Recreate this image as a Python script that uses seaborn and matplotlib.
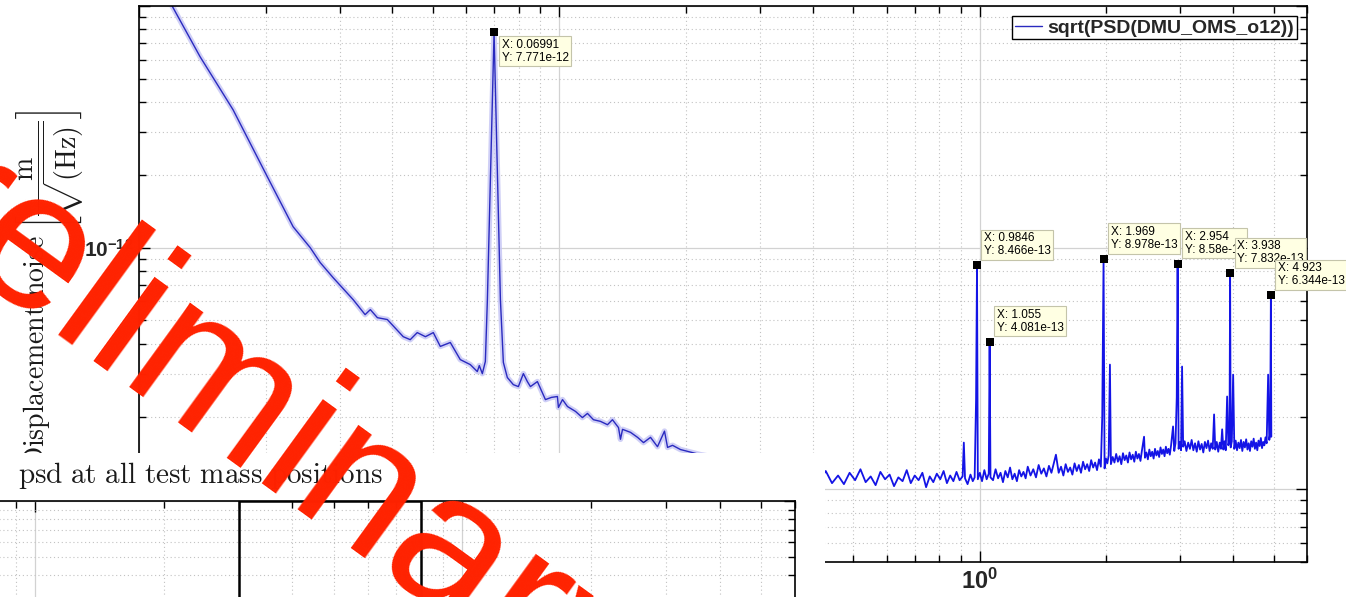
import numpy as np
import matplotlib
matplotlib.use('Agg')
import matplotlib.pyplot as plt
import seaborn as sns
from matplotlib.patches import Rectangle
from matplotlib.ticker import LogLocator, NullFormatter, FixedLocator, FixedFormatter

# ---------------- data ----------------
freq_low = [0.0100, 0.01199, 0.01397, 0.01674, 0.02018, 0.02326, 0.02554, 0.02698,
            0.02896, 0.03232, 0.0345, 0.0355, 0.0369, 0.03896, 0.04251, 0.04417,
            0.04590, 0.0480, 0.05012, 0.05208, 0.05501, 0.05810, 0.06138, 0.06378,
            0.06448, 0.06556, 0.06665, 0.06740, 0.06991, 0.07238, 0.07356, 0.07518,
            0.07769, 0.07986, 0.08208, 0.08390, 0.08531, 0.08863, 0.09262, 0.09572,
            0.09890, 0.09945, 0.1017, 0.1045, 0.1092, 0.1134, 0.1166, 0.1205,
            0.1252, 0.1301, 0.1337, 0.1382, 0.1397, 0.1413, 0.1476, 0.1534,
            0.1585, 0.1647, 0.1711, 0.1778, 0.1808, 0.1858, 0.1941, 0.2167,
            0.2698, 0.3359]
amp_low = [1.75e-11, 1.0e-11, 6.17e-12, 3.72e-12, 1.97e-12, 1.22e-12, 1.00e-12, 8.67e-13,
           7.51e-13, 6.09e-13, 5.28e-13, 5.54e-13, 5.13e-13, 5.04e-13, 4.28e-13, 4.16e-13,
           4.45e-13, 4.28e-13, 4.45e-13, 3.90e-13, 4.05e-13, 3.44e-13, 3.28e-13, 3.07e-13,
           3.25e-13, 3.01e-13, 3.38e-13, 6.09e-13, 7.771e-12, 6.09e-13, 3.35e-13, 2.90e-13,
           2.71e-13, 2.66e-13, 3.01e-13, 2.79e-13, 2.66e-13, 2.79e-13, 2.35e-13, 2.40e-13,
           2.42e-13, 2.18e-13, 2.35e-13, 2.20e-13, 2.10e-13, 1.98e-13, 2.06e-13, 1.94e-13,
           1.91e-13, 1.85e-13, 1.94e-13, 1.80e-13, 1.61e-13, 1.77e-13, 1.72e-13, 1.64e-13,
           1.56e-13, 1.64e-13, 1.50e-13, 1.74e-13, 1.49e-13, 1.52e-13, 1.46e-13, 1.39e-13,
           1.30e-13, 1.23e-13]

freq_floor = [0.3359, 0.400, 0.415, 0.430, 0.445, 0.460, 0.475, 0.490, 0.505, 0.520, 0.535,
              0.550, 0.565, 0.580, 0.595, 0.610, 0.625, 0.640, 0.655, 0.670, 0.685,
              0.700, 0.715, 0.730, 0.745, 0.760, 0.775, 0.790, 0.805, 0.820, 0.835,
              0.850, 0.865, 0.880, 0.895, 0.910, 0.916, 0.922, 0.935, 0.950, 0.962,
              0.972, 0.9795, 0.9846, 0.9890, 1.000, 1.012, 1.025, 1.038, 1.050, 1.055,
              1.060, 1.075, 1.090, 1.105, 1.120, 1.135, 1.150, 1.165, 1.180, 1.195,
              1.210, 1.225, 1.240, 1.255, 1.270, 1.285, 1.300, 1.320, 1.340, 1.360,
              1.380, 1.400, 1.420, 1.440, 1.460, 1.480, 1.517, 1.540, 1.560, 1.580,
              1.600, 1.620, 1.640, 1.660, 1.680, 1.700, 1.720, 1.740, 1.760, 1.780,
              1.800, 1.820, 1.840, 1.860, 1.880, 1.900, 1.920, 1.940, 1.955, 1.969,
              1.980, 1.995, 2.010, 2.025, 2.039, 2.050, 2.070, 2.090, 2.110, 2.130,
              2.150, 2.170, 2.190, 2.210, 2.230, 2.250, 2.270, 2.290, 2.310, 2.330,
              2.350, 2.370, 2.390, 2.410, 2.430, 2.458, 2.470, 2.490, 2.510, 2.530,
              2.550, 2.570, 2.590, 2.610, 2.630, 2.650, 2.670, 2.690, 2.710, 2.730,
              2.750, 2.770, 2.790, 2.810, 2.830, 2.850, 2.881, 2.900, 2.920, 2.940,
              2.954, 2.970, 2.990, 3.010, 3.027, 3.045, 3.070, 3.100, 3.130, 3.160,
              3.190, 3.220, 3.250, 3.280, 3.310, 3.340, 3.370, 3.400, 3.430, 3.460,
              3.490, 3.520, 3.550, 3.580, 3.607, 3.630, 3.660, 3.690, 3.720, 3.745,
              3.770, 3.795, 3.820, 3.845, 3.874, 3.900, 3.925, 3.938, 3.950, 3.975,
              4.004, 4.030, 4.060, 4.090, 4.120, 4.150, 4.180, 4.210, 4.240, 4.270,
              4.300, 4.330, 4.360, 4.390, 4.420, 4.450, 4.480, 4.510, 4.540, 4.570,
              4.600, 4.630, 4.660, 4.690, 4.720, 4.750, 4.780, 4.810, 4.850, 4.880,
              4.905, 4.923, 4.935]
amp_floor = [1.23, 1.16, 1.08, 1.19, 1.06, 1.14, 1.05, 1.17, 1.09, 1.21, 1.07,
             1.13, 1.04, 1.18, 1.10, 1.15, 1.03, 1.12, 1.08, 1.20, 1.06,
             1.14, 1.09, 1.17, 1.02, 1.13, 1.07, 1.16, 1.10, 1.19, 1.06,
             1.14, 1.08, 1.18, 1.09, 1.13, 1.56, 1.11, 1.05, 1.15, 1.08,
             1.12, 2.35, 8.466, 1.10, 1.17, 1.08, 1.20, 1.10, 1.16, 4.081,
             1.12, 1.09, 1.21, 1.11, 1.17, 1.07, 1.19, 1.12, 1.23, 1.10,
             1.16, 1.08, 1.20, 1.13, 1.18, 1.11, 1.24, 1.14, 1.21, 1.12,
             1.26, 1.16, 1.22, 1.13, 1.25, 1.17, 1.39, 1.17, 1.24, 1.14,
             1.27, 1.18, 1.23, 1.15, 1.28, 1.19, 1.26, 1.17, 1.30, 1.21,
             1.27, 1.19, 1.32, 1.23, 1.29, 1.20, 1.33, 1.24, 2.00, 8.978,
             1.22, 1.34, 1.28, 1.38, 3.28, 1.27, 1.36, 1.29, 1.40, 1.30,
             1.37, 1.27, 1.41, 1.32, 1.38, 1.29, 1.42, 1.33, 1.39, 1.30,
             1.43, 1.34, 1.40, 1.31, 1.45, 1.65, 1.35, 1.42, 1.33, 1.46,
             1.37, 1.43, 1.34, 1.47, 1.38, 1.44, 1.36, 1.49, 1.40, 1.46,
             1.37, 1.50, 1.41, 1.47, 1.39, 1.52, 1.82, 1.44, 1.55, 2.40,
             8.58, 1.47, 1.57, 1.45, 3.22, 1.50, 1.58, 1.44, 1.56, 1.47,
             1.60, 1.45, 1.55, 1.43, 1.58, 1.46, 1.54, 1.42, 1.57, 1.48,
             1.59, 1.44, 1.55, 1.47, 2.04, 1.46, 1.57, 1.43, 1.56, 1.47,
             1.77, 1.46, 1.58, 1.45, 2.42, 1.52, 1.60, 7.832, 1.49, 1.58,
             2.98, 1.47, 1.59, 1.45, 1.56, 1.48, 1.60, 1.44, 1.57, 1.49,
             1.61, 1.46, 1.55, 1.44, 1.58, 1.50, 1.62, 1.47, 1.56, 1.45,
             1.59, 1.51, 1.63, 1.48, 1.57, 1.52, 1.64, 1.55, 2.98, 1.60,
             1.70, 6.344, 1.65]
floor_unit = 1e-13

tip_x = [0.06991, 1.055, 0.9846, 1.969, 2.954, 3.938, 4.923]
tip_y = [7.771e-12, 4.081e-13, 8.466e-13, 8.978e-13, 8.58e-13, 7.832e-13, 6.344e-13]
tip_below = [True, False, False, False, False, False, False]

legend_label = 'sqrt(PSD(DMU_OMS_o12))'
xtick_major = [0.01, 0.1, 1.0]
ytick_major = [1e-13, 1e-12, 1e-11]
ytick_labels = ['', r'$\mathdefault{10^{-12}}$', '']
lower_box = [0.3, 0.8]
title_text = r'$\mathrm{psd\ at\ all\ test\ mass\ positions}$'
ylabel_text = r'$\mathrm{Displacement\ noise}\ \left[\dfrac{\mathrm{m}}{\sqrt{(\mathrm{Hz})}}\right]$'
watermark = 'Preliminary'

# ---------------- style ----------------
sns.set_style('white')
plt.rcParams['font.family'] = ['Liberation Sans', 'DejaVu Sans']
plt.rcParams['mathtext.fontset'] = 'cm'

W, H = 1346, 597
fig = plt.figure(figsize=(W / 100, H / 100), dpi=100)
fig.patch.set_facecolor('white')


def fx(px):
    return px / W


def fy(py):
    return 1 - py / H


LINE = '#2a2abf'
FLOOR = '#1414e6'
HALO = '#c4c4f4'
GRID_MAJ = '#d2d2d2'
GRID_MIN = '#c2c2c2'


def style_axes(a):
    a.set_xscale('log')
    a.set_yscale('log')
    a.xaxis.set_minor_locator(LogLocator(base=10, subs=np.arange(2, 10), numticks=50))
    a.yaxis.set_minor_locator(LogLocator(base=10, subs=np.arange(2, 10), numticks=50))
    a.xaxis.set_minor_formatter(NullFormatter())
    a.yaxis.set_minor_formatter(NullFormatter())
    a.tick_params(which='both', direction='in', top=True, right=True, bottom=True, left=True,
                  width=1.0, color='black')
    a.tick_params(which='major', length=8)
    a.tick_params(which='minor', length=5)
    for s in a.spines.values():
        s.set_visible(True)
        s.set_color('black')
        s.set_linewidth(1.2)
    a.grid(which='major', color=GRID_MAJ, lw=0.9, ls='-')
    a.grid(which='minor', color=GRID_MIN, lw=0.8, ls=(0, (1, 2.5)))
    a.set_axisbelow(True)


# ---------------- main axes ----------------
ax = fig.add_axes([fx(139), fy(562), fx(1307) - fx(139), fy(6) - fy(562)], zorder=0)
style_axes(ax)

amp_floor_abs = [v * floor_unit for v in amp_floor]

sns.lineplot(x=freq_low, y=amp_low, ax=ax, estimator=None, sort=False,
             color=HALO, lw=4.0, alpha=0.8, legend=False)
sns.lineplot(x=freq_floor, y=amp_floor_abs, ax=ax, estimator=None, sort=False,
             color=FLOOR, lw=1.3, legend=False)
sns.lineplot(x=freq_low, y=amp_low, ax=ax, estimator=None, sort=False,
             color=LINE, lw=1.0, label=legend_label)

ax.set_xlim(0.01, 6.0)
ax.set_ylim(5e-14, 1e-11)
ax.xaxis.set_major_locator(FixedLocator(xtick_major))
ax.yaxis.set_major_locator(FixedLocator(ytick_major))
ax.yaxis.set_major_formatter(FixedFormatter(ytick_labels))
ax.tick_params(axis='x', which='major', labelsize=17, pad=5)
ax.tick_params(axis='y', which='major', labelsize=15, pad=4)
for t in ax.get_xticklabels() + ax.get_yticklabels():
    t.set_fontweight('bold')
ax.set_xlabel('')
ax.set_ylabel('')

leg = ax.legend(loc='upper right', bbox_to_anchor=(fx(1297), fy(16)), bbox_transform=fig.transFigure,
                prop={'family': 'Liberation Sans', 'weight': 'bold', 'size': 14},
                frameon=True, fancybox=False, edgecolor='black', framealpha=1,
                borderpad=0.15, handlelength=1.4, handletextpad=0.25, borderaxespad=0)
leg.get_frame().set_linewidth(1.0)
for ln in leg.get_lines():
    ln.set_linewidth(1.0)

sns.scatterplot(x=tip_x, y=tip_y, ax=ax, marker='s', s=30, color='black',
                edgecolor='black', linewidth=0, zorder=6, legend=False)
for xv, yv, below in zip(tip_x, tip_y, tip_below):
    txt = 'X: %.4g\nY: %.4g' % (xv, yv)
    if below:
        off, va = (7.5, -6.5), 'top'
    else:
        off, va = (7, 8), 'bottom'
    ax.annotate(txt, xy=(xv, yv), xytext=off, textcoords='offset pixels',
                ha='left', va=va, fontsize=8.5, fontweight='normal', linespacing=1.1,
                family='Liberation Sans', color='black',
                bbox=dict(boxstyle='square,pad=0.22', fc='#ffffe3', ec='#c4c4aa', lw=0.8),
                zorder=7, annotation_clip=False)

fig.text(fx(50), fy(289), ylabel_text, rotation=90, ha='center', va='center',
         fontsize=20, color='#1a1a1a', zorder=0.5)

fig.add_artist(Rectangle((0, 0), fx(825), fy(453), transform=fig.transFigure,
                         fc='white', ec='none', zorder=1))

# ---------------- lower panel ----------------
ax2 = fig.add_axes([fx(-31), fy(687), fx(795) - fx(-31), fy(501) - fy(687)], zorder=2)
style_axes(ax2)
ax2.set_xlim(0.07, 6.0)
ax2.set_ylim(1e-13, 1e-12)
ax2.tick_params(labelleft=False, labelbottom=False)
ax2.axvspan(lower_box[0], lower_box[1], fill=False, ec='black', lw=1.8, zorder=3)

fig.text(fx(18), fy(483), title_text, ha='left', va='baseline', fontsize=21,
         color='#1a1a1a', zorder=3)

fig.text(fx(194.5), fy(447), watermark, fontsize=142, color='#ff2200', rotation=-36,
         rotation_mode='anchor', ha='center', va='baseline', family='Liberation Sans',
         fontweight='normal', zorder=20)

fig.savefig('out.png', dpi=100)
